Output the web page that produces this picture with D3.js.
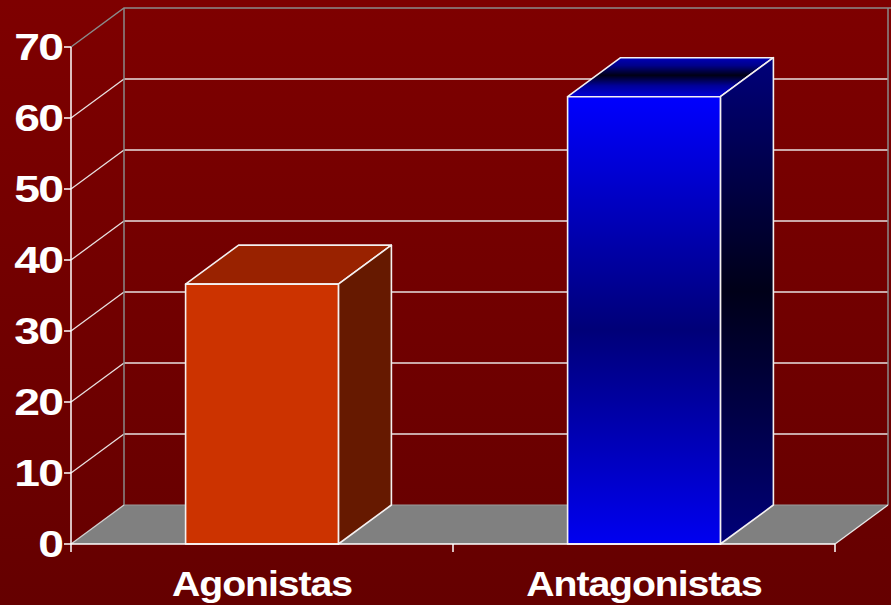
<!DOCTYPE html>
<html>
<head>
<meta charset="utf-8">
<script src="https://cdn.jsdelivr.net/npm/d3@7"></script>
<style>
  html, body { margin: 0; padding: 0; background: #700000; }
  svg { display: block; }
</style>
</head>
<body>
<svg id="chart"></svg>
<script>
const categories = ["Agonistas", "Antagonistas"]
const values = [36.6, 63]
const yTicks = [0, 10, 20, 30, 40, 50, 60, 70]

const width = 891
const height = 605
const depthX = 53
const depthY = -39

const svg = d3.select("#chart")
  .attr("width", width)
  .attr("height", height)

const defs = svg.append("defs")

const bg = defs.append("linearGradient").attr("id", "bg")
  .attr("x1", 0).attr("y1", 0).attr("x2", 0).attr("y2", 1)
bg.append("stop").attr("offset", "0%").attr("stop-color", "#7e0000")
bg.append("stop").attr("offset", "100%").attr("stop-color", "#650000")

// blue bar gradients (user space, vertical)
function vGrad(id, y1, y2, stops) {
  const g = defs.append("linearGradient").attr("id", id)
    .attr("gradientUnits", "userSpaceOnUse")
    .attr("x1", 0).attr("x2", 0).attr("y1", y1).attr("y2", y2)
  stops.forEach(s => g.append("stop").attr("offset", s[0]).attr("stop-color", s[1]))
}

svg.append("rect")
  .attr("width", width)
  .attr("height", height)
  .attr("fill", "url(#bg)")

const y = d3.scaleLinear()
  .domain([0, 70])
  .range([544, 47])

const x = d3.scaleBand()
  .domain(categories)
  .range([71, 835])
  .paddingInner(0.6)
  .paddingOuter(0.3)

const xCat = d3.scaleBand()
  .domain(categories)
  .range([71, 835])

const x0 = 71, x1 = 835
const y0 = y(0)

// floor
svg.append("polygon")
  .attr("points", [[x0, y0], [x0 + depthX, y0 + depthY], [x1 + depthX, y0 + depthY], [x1, y0]].join(" "))
  .attr("fill", "#808080")

// grid lines on back wall + side diagonals
const grid = svg.append("g")
grid.selectAll("line.h")
  .data(yTicks.filter(d => d > 0 && d < 70))
  .enter().append("line")
  .attr("x1", x0 + depthX).attr("x2", x1 + depthX)
  .attr("y1", d => y(d) + depthY).attr("y2", d => y(d) + depthY)
  .style("stroke", "#e8e0e0").style("stroke-width", 1.3)
grid.selectAll("line.d")
  .data(yTicks.filter(d => d > 0 && d < 70))
  .enter().append("line")
  .attr("x1", x0).attr("x2", x0 + depthX)
  .attr("y1", d => y(d)).attr("y2", d => y(d) + depthY)
  .style("stroke", "#e8e0e0").style("stroke-width", 1.3)

// back wall outline (grey)
const wallColor = "#8a8a8a"
svg.append("polyline")
  .attr("points", [[x0, y(70)], [x0 + depthX, y(70) + depthY], [width, y(70) + depthY]].join(" "))
  .attr("fill", "none").style("stroke", wallColor).style("stroke-width", 1.5)
svg.append("line")
  .attr("x1", x0 + depthX).attr("x2", x0 + depthX)
  .attr("y1", y(70) + depthY).attr("y2", y0 + depthY)
  .style("stroke", wallColor).style("stroke-width", 1.5)
svg.append("line")
  .attr("x1", x1 + depthX).attr("x2", x1 + depthX)
  .attr("y1", y(70) + depthY).attr("y2", y0 + depthY)
  .style("stroke", wallColor).style("stroke-width", 1.5)
svg.append("line")
  .attr("x1", x0 + depthX).attr("x2", x1 + depthX)
  .attr("y1", y0 + depthY).attr("y2", y0 + depthY)
  .style("stroke", "#9a9a9a").style("stroke-width", 1)

// floor edges
svg.append("line")
  .attr("x1", x0).attr("y1", y0).attr("x2", x0 + depthX).attr("y2", y0 + depthY)
  .style("stroke", "#d0d0d0").style("stroke-width", 1.3)
svg.append("line")
  .attr("x1", x1).attr("y1", y0).attr("x2", x1 + depthX).attr("y2", y0 + depthY)
  .style("stroke", "#e8e8e8").style("stroke-width", 1.3)

// bars
const styles = [
  { front: "#cc3300", top: "#992200", side: "#661900" },
  { front: "url(#blueFront)", top: "url(#blueTop)", side: "url(#blueSide)" }
]

vGrad("blueFront", y(values[1]), y0, [["0%", "#0000ff"], ["52%", "#000078"], ["100%", "#0000f0"]])
vGrad("blueSide", y(values[1]) + depthY, y0, [["0%", "#00007a"], ["48%", "#000018"], ["100%", "#000078"]])
vGrad("blueTop", y(values[1]) + depthY, y(values[1]), [["0%", "#0000b8"], ["20%", "#00008a"], ["45%", "#000015"], ["72%", "#00009a"], ["100%", "#0000d8"]])

const bars = svg.append("g").selectAll("g")
  .data(categories.map((c, i) => ({ name: c, value: values[i], style: styles[i] })))
  .enter().append("g")

const edge = g => g.style("stroke", "#f4f0f0").style("stroke-width", 1.6).style("stroke-linejoin", "round")

bars.append("polygon")
  .attr("points", d => {
    const l = x(d.name), r = l + x.bandwidth(), t = y(d.value)
    return [[l, t], [l + depthX, t + depthY], [r + depthX, t + depthY], [r, t]].join(" ")
  })
  .style("fill", d => d.style.top)
  .call(edge)

bars.append("polygon")
  .attr("points", d => {
    const r = x(d.name) + x.bandwidth(), t = y(d.value)
    return [[r, t], [r + depthX, t + depthY], [r + depthX, y0 + depthY], [r, y0]].join(" ")
  })
  .style("fill", d => d.style.side)
  .call(edge)

bars.append("rect")
  .attr("x", d => x(d.name))
  .attr("y", d => y(d.value))
  .attr("width", x.bandwidth())
  .attr("height", d => y0 - y(d.value))
  .style("fill", d => d.style.front)
  .call(edge)

// front axis
svg.append("line")
  .attr("x1", x0).attr("x2", x0).attr("y1", y(70)).attr("y2", y0 + 8)
  .style("stroke", "white").style("stroke-width", 1.5)
svg.append("line")
  .attr("x1", x0).attr("x2", x1).attr("y1", y0).attr("y2", y0)
  .style("stroke", "white").style("stroke-width", 1.5)

svg.selectAll("line.tick")
  .data(yTicks)
  .enter().append("line")
  .attr("x1", x0 - 7).attr("x2", x0)
  .attr("y1", d => y(d)).attr("y2", d => y(d))
  .style("stroke", "white").style("stroke-width", 1.5)

// category separators
svg.selectAll("line.sep")
  .data([xCat(categories[1]), x1])
  .enter().append("line")
  .attr("x1", d => d).attr("x2", d => d)
  .attr("y1", y0).attr("y2", y0 + 8)
  .style("stroke", "white").style("stroke-width", 1.5)

svg.selectAll("text.ylab")
  .data(yTicks)
  .enter().append("text")
  .attr("transform", d => "translate(62," + (y(d) + 13) + ") scale(1.25,1)")
  .style("text-anchor", "end")
  .style("font-family", "'Liberation Sans', Arial, sans-serif")
  .style("font-weight", "bold")
  .style("font-size", "37px")
  .style("letter-spacing", "-1.5px")
  .style("fill", "white")
  .text(d => d)

svg.selectAll("text.xlab")
  .data(categories)
  .enter().append("text")
  .attr("transform", d => "translate(" + (xCat(d) + xCat.bandwidth() / 2) + ",596) scale(1.09,1)")
  .style("text-anchor", "middle")
  .style("font-family", "'Liberation Sans', Arial, sans-serif")
  .style("font-weight", "bold")
  .style("font-size", "36px")
  .style("letter-spacing", "-1px")
  .style("fill", "white")
  .text(d => d)
</script>
</body>
</html>
